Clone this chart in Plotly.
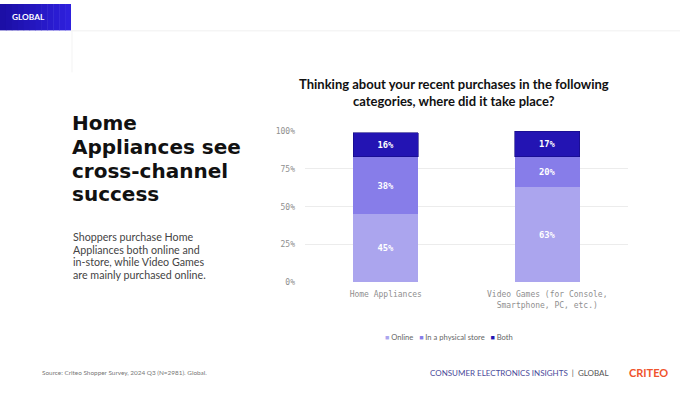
import plotly.graph_objects as go

W, H = 680, 393

categories = ["Home Appliances", "Video Games (for Console,<br>Smartphone, PC, etc.)"]
series_names = ["Online", "In a physical store", "Both"]
online = [45, 63]
physical = [38, 20]
both = [16, 17]
tick_vals = [0, 25, 50, 75, 100]
tick_text = ["0%", "25%", "50%", "75%", "100%"]
headline_lines = ["Home", "Appliances see", "cross-channel", "success"]
subtitle_lines = ["Shoppers purchase Home", "Appliances both online and",
                  "in-store, while Video Games", "are mainly purchased online."]

colors = ["#aba5ee", "#877de9", "#2314b3"]
series_values = [online, physical, both]


def py(y):
    return 1 - y / H


def px(x):
    return x / W


fig = go.Figure()
for name, vals, col in zip(series_names, series_values, colors):
    fig.add_trace(go.Bar(
        x=categories, y=vals, name=name,
        marker=dict(color=col, line=dict(width=0.6 if name == "Both" else 0, color="#140a80")),
        texttemplate="%{y}%", textposition="inside", insidetextanchor="middle",
        textfont=dict(family="DejaVu Sans Mono", size=8.8, color="white", weight="bold"),
        showlegend=False, width=0.4,
    ))

fig.update_layout(
    width=W, height=H, barmode="stack",
    paper_bgcolor="white", plot_bgcolor="white",
    margin=dict(l=0, r=0, t=0, b=0),
    font=dict(family="Lato", color="#333"),
    showlegend=False,
    xaxis=dict(domain=[px(305), px(628)], tickfont=dict(family="DejaVu Sans Mono", size=8, color="#8f8f8f"),
               showgrid=False, showline=False, ticks="", fixedrange=True, ticklabelstandoff=6),
    yaxis=dict(domain=[py(285), py(130)], range=[0, 100], tickvals=tick_vals, ticktext=tick_text,
               tickfont=dict(family="DejaVu Sans Mono", size=8, color="#8f8f8f"),
               gridcolor="#ececec", gridwidth=1, zeroline=False, showline=False, ticklabelstandoff=9,
               fixedrange=True),
)

shapes = []
steps = 12
c0 = (0x1c, 0x0f, 0xa6)
c1 = (0x2e, 0x20, 0xdc)
for i in range(steps):
    t = i / (steps - 1)
    c = tuple(int(c0[k] + (c1[k] - c0[k]) * t) for k in range(3))
    shapes.append(dict(type="rect", xref="paper", yref="paper",
                       x0=px(71 * i / steps), x1=px(min(71, 71 * (i + 1) / steps + 0.5)), y0=py(27), y1=py(0),
                       fillcolor="rgb(%d,%d,%d)" % c, line=dict(width=0), layer="above"))
shapes.append(dict(type="line", xref="paper", yref="paper", x0=px(71), x1=1, y0=py(27.5), y1=py(27.5),
                   line=dict(color="#f0f0f0", width=1)))
shapes.append(dict(type="line", xref="paper", yref="paper", x0=px(72), x1=px(72), y0=py(27), y1=py(70),
                   line=dict(color="#f3f3f3", width=1)))
fig.update_layout(shapes=shapes)

anns = []
anns.append(dict(text="<b>GLOBAL</b>", x=px(10), y=py(13.5), xanchor="left", yanchor="middle",
                 font=dict(family="Lato", size=8.3, color="white")))
anns.append(dict(text="<b>Thinking about your recent purchases in the following<br>categories, where did it take place?</b>",
                 x=px(454), y=py(91), xanchor="center", yanchor="middle", align="center",
                 font=dict(family="Lato", size=13, color="#111")))
for i, line in enumerate(headline_lines):
    anns.append(dict(text="<b>%s</b>" % line, x=px(70), y=py(122 + 24.3 * i), xanchor="left", yanchor="middle",
                     align="left", font=dict(family="DejaVu Sans", size=20, color="#111")))
for i, line in enumerate(subtitle_lines):
    anns.append(dict(text=line, x=px(71), y=py(238 + 13 * i), xanchor="left", yanchor="middle",
                     align="left", font=dict(family="Lato", size=10.7, color="#444")))
legend_text = "&nbsp;&nbsp;&nbsp;".join(
    "<span style='color:%s;font-size:7px'>■</span> %s" % (c, n) for n, c in zip(series_names, colors))
anns.append(dict(text=legend_text, x=px(383), y=py(341), xanchor="left", yanchor="middle",
                 font=dict(family="Lato", size=7.6, color="#666")))
anns.append(dict(text="Source: Criteo Shopper Survey, 2024 Q3 (N=2981). Global.",
                 x=px(40), y=py(377.5), xanchor="left", yanchor="middle",
                 font=dict(family="Lato", size=6.4, color="#777")))
anns.append(dict(text="<span style='color:#4a4a9a'>CONSUMER ELECTRONICS INSIGHTS</span>  |  GLOBAL",
                 x=px(428), y=py(377.5), xanchor="left", yanchor="middle",
                 font=dict(family="Lato", size=8, color="#555")))
anns.append(dict(text="<b>CRITEO</b>", x=px(627), y=py(377.5), xanchor="left", yanchor="middle",
                 font=dict(family="Lato", size=11, color="#f0532d")))
for a in anns:
    a.update(xref="paper", yref="paper", showarrow=False)
fig.update_layout(annotations=anns)

fig.write_html("out.html", config={"displayModeBar": False},
               post_script="document.body.style.margin='0';document.body.style.padding='0';")
